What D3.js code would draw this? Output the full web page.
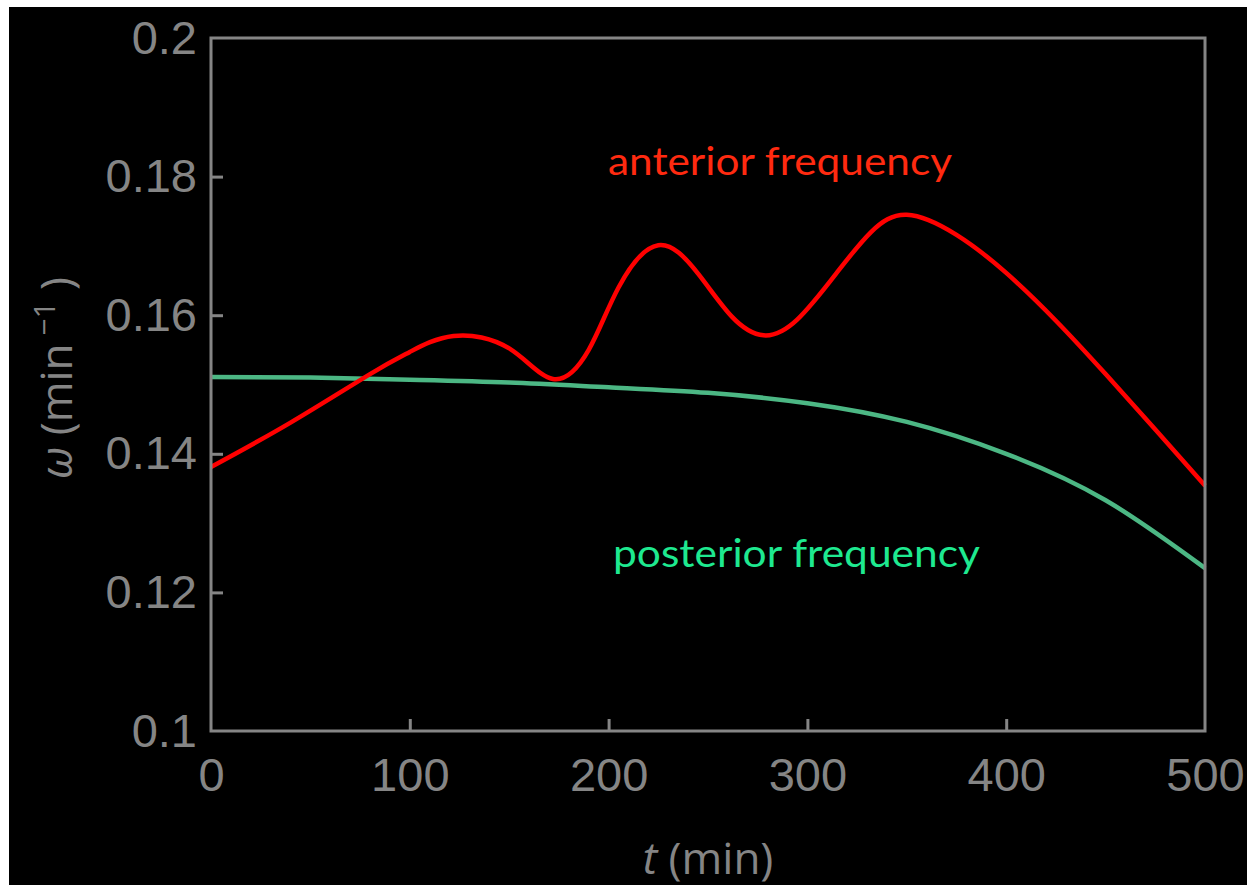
<!DOCTYPE html>
<html>
  <head>
    <title>frequency</title>
    <script type="text/javascript" src="https://cdn.jsdelivr.net/npm/d3@7"></script>
    <style>
      html, body { margin:0; padding:0; background:#fff; }
      svg { display:block; }
    </style>
  </head>
  <body>
    <div id="chart"></div>
    <script type="text/javascript">

      // data
      var tAnterior = [0, 40, 80, 100, 122, 150, 172, 190, 205, 225, 245, 262, 278, 295, 315, 332, 350, 375, 400, 425, 450, 475, 500];
      var wAnterior = [0.1381, 0.1445, 0.1515, 0.1547, 0.1570, 0.1552, 0.1508, 0.1550, 0.1640, 0.1701, 0.1660, 0.1598, 0.1571, 0.1594, 0.1662, 0.1720, 0.1745, 0.1716, 0.1661, 0.1592, 0.1515, 0.1435, 0.1354];
      var tPosterior = [0, 50, 100, 150, 200, 250, 300, 350, 400, 450, 500];
      var wPosterior = [0.1511, 0.1510, 0.1507, 0.1503, 0.1496, 0.1488, 0.1473, 0.1446, 0.1400, 0.1333, 0.1235];
      var xTicks = [0, 100, 200, 300, 400, 500];
      var yTicks = [0.1, 0.12, 0.14, 0.16, 0.18, 0.2];
      var yTickLabels = ["0.1", "0.12", "0.14", "0.16", "0.18", "0.2"];

      var W = 1247, H = 885;
      // plot frame (note: "top" is taken by window.top)
      var pLeft = 211, pRight = 1205, pTop = 38, pBottom = 731;
      var gray = "#858585";

      var svg = d3.select("#chart").append("svg")
        .attr("width", W)
        .attr("height", H);

      // black page with the thin white strip on the left and top
      svg.append("rect").attr("x", 9).attr("y", 7).attr("width", W - 9).attr("height", H - 7).attr("fill", "#000");

      var x = d3.scaleLinear().domain([0, 500]).range([pLeft, pRight]);
      var y = d3.scaleLinear().domain([0.1, 0.2]).range([pBottom, pTop]);

      var xAxis = d3.axisBottom(x).tickValues(xTicks).tickFormat(d3.format("d"))
        .tickSizeInner(-12).tickSizeOuter(0).tickPadding(27);
      var yAxis = d3.axisLeft(y).tickValues(yTicks).tickFormat(function(d, i) { return yTickLabels[i]; })
        .tickSizeInner(-12).tickSizeOuter(0).tickPadding(14);

      var gx = svg.append("g").attr("transform", "translate(0," + pBottom + ")").call(xAxis);
      var gy = svg.append("g").attr("transform", "translate(" + pLeft + ",0)").call(yAxis);

      [gx, gy].forEach(function(g) {
        g.select(".domain").remove();
        g.selectAll(".tick line").attr("stroke", gray).attr("stroke-width", 3);
        g.selectAll(".tick text")
          .attr("fill", gray)
          .style("font-family", "'Liberation Sans', Arial, sans-serif")
          .style("font-size", "47px");
      });
      // no inner tick on the frame corners
      gx.selectAll(".tick").filter(function(d) { return d == 0 || d == 500; }).select("line").remove();
      gy.selectAll(".tick").filter(function(d) { return d == 0.1 || d == 0.2; }).select("line").remove();

      // curves
      var line = d3.line()
        .x(function(d) { return x(d[0]); })
        .y(function(d) { return y(d[1]); })
        .curve(d3.curveNatural);

      svg.append("path")
        .datum(d3.zip(tPosterior, wPosterior))
        .attr("d", line)
        .attr("fill", "none")
        .attr("stroke", "#4cb784")
        .attr("stroke-width", 4.5);

      svg.append("path")
        .datum(d3.zip(tAnterior, wAnterior))
        .attr("d", line)
        .attr("fill", "none")
        .attr("stroke", "#ff0000")
        .attr("stroke-width", 4.5);

      // frame
      svg.append("rect")
        .attr("x", pLeft).attr("y", pTop)
        .attr("width", pRight - pLeft).attr("height", pBottom - pTop)
        .attr("fill", "none")
        .attr("stroke", gray)
        .attr("stroke-width", 3);

      // labels on the curves
      svg.append("text")
        .attr("x", 608).attr("y", 175)
        .attr("textLength", 344)
        .attr("lengthAdjust", "spacingAndGlyphs")
        .attr("fill", "#ff2a10")
        .style("font-family", "Lato, 'Open Sans', sans-serif")
        .style("font-size", "39px")
        .text("anterior frequency");

      svg.append("text")
        .attr("x", 613).attr("y", 567)
        .attr("textLength", 367)
        .attr("lengthAdjust", "spacingAndGlyphs")
        .attr("fill", "#1ee990")
        .style("font-family", "Lato, 'Open Sans', sans-serif")
        .style("font-size", "39px")
        .text("posterior frequency");

      // axis titles
      var xt = svg.append("text")
        .attr("x", (pLeft + pRight) / 2).attr("y", 874)
        .attr("text-anchor", "middle")
        .attr("fill", gray)
        .style("font-family", "'Open Sans', sans-serif")
        .style("font-size", "44px");
      xt.append("tspan").style("font-style", "italic").text("t");
      xt.append("tspan").text(" (min)");

      var yt = svg.append("text")
        .attr("transform", "translate(72,378) rotate(-90)")
        .attr("text-anchor", "middle")
        .attr("fill", gray)
        .style("font-family", "'Open Sans', sans-serif")
        .style("font-size", "44px");
      yt.append("tspan").style("font-style", "italic").text("ω");
      yt.append("tspan").text(" (min");
      yt.append("tspan").attr("dy", -17).style("font-size", "30px").text(" −1");
      yt.append("tspan").attr("dy", 17).text(" )");

    </script>
  </body>
</html>
